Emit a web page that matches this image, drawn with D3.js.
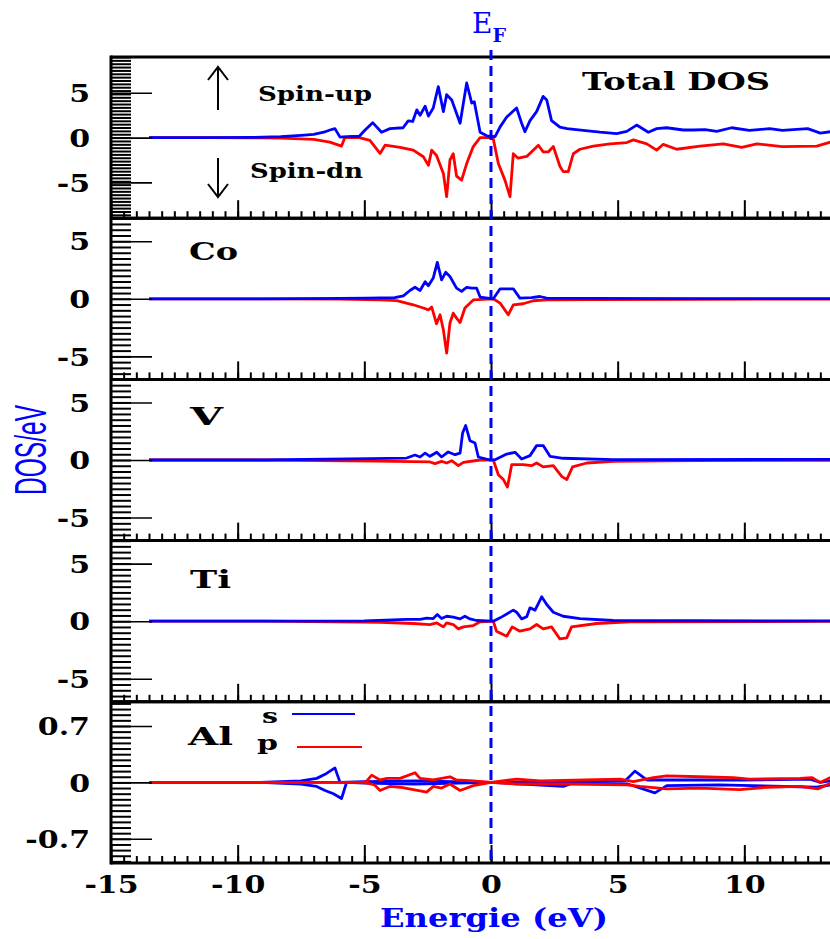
<!DOCTYPE html>
<html><head><meta charset="utf-8">
<script src="https://cdn.jsdelivr.net/npm/d3@7"></script>
<style>body{margin:0;background:#fff}svg{display:block}</style>
</head><body><svg id="c" width="830" height="939"></svg>
<script>
// ---------------- data ----------------
const energyTicks = [-15, -10, -5, 0, 5, 10];
const panelNames = ["Total DOS", "Co", "V", "Ti", "Al"];
const panelLimits = [9, 7, 7, 7, 1];
const yTickValsBig = [-5, 0, 5];
const yTickValsAl = [-0.7, 0, 0.7];

const totalUp = [[-13.5,0],[-11,0],[-9.5,0.02],[-8.3,0.1],[-7.5,0.25],[-7.0,0.37],[-6.6,0.6],[-6.36,0.85],[-6.16,1.0],[-5.96,0.05],[-5.7,0.1],[-5.2,0.15],[-4.97,0.85],[-4.67,1.67],[-4.32,0.6],[-3.99,1.0],[-3.47,1.1],[-3.27,1.86],[-3.09,1.8],[-2.93,3.1],[-2.8,2.5],[-2.6,3.5],[-2.47,2.4],[-2.28,3.3],[-2.08,5.7],[-1.88,2.9],[-1.75,4.8],[-1.55,4.2],[-1.22,1.6],[-0.96,6.1],[-0.76,3.85],[-0.66,4.0],[-0.43,0.6],[-0.17,0.2],[0.16,0.1],[0.36,1.2],[0.62,2.3],[1.01,3.3],[1.21,1.6],[1.34,0.66],[1.54,1.9],[1.8,2.9],[2.06,4.6],[2.2,4.2],[2.39,1.9],[2.72,1.16],[3.0,1.0],[3.64,0.8],[4.3,0.6],[4.96,0.45],[5.36,0.7],[5.75,1.4],[6.21,0.6],[6.54,1.0],[6.93,1.1],[7.59,0.85],[8.0,0.85],[8.45,0.9],[8.91,0.7],[9.5,1.1],[10.2,0.8],[11.0,1.0],[11.5,0.8],[12.5,1.0],[13.0,0.5],[13.4,0.66],[13.6,0.7]];
const totalDn = [[-13.5,0],[-11,0],[-9.5,-0.02],[-8.3,-0.05],[-7.0,-0.2],[-6.36,-0.5],[-5.9,-0.95],[-5.77,0],[-5.2,0],[-4.78,-0.3],[-4.38,-1.77],[-4.18,-0.85],[-3.59,-1.1],[-3.07,-1.4],[-2.67,-2.14],[-2.47,-3.1],[-2.34,-1.4],[-2.15,-2.0],[-1.88,-4.0],[-1.75,-6.6],[-1.62,-2.5],[-1.49,-1.8],[-1.36,-4.3],[-1.16,-4.75],[-0.96,-2.9],[-0.7,-1.0],[-0.43,0],[0.08,0],[0.29,-2.9],[0.55,-4.75],[0.75,-6.6],[0.88,-1.8],[1.07,-2.3],[1.41,-2.1],[1.87,-0.85],[2.06,-1.6],[2.26,-1.6],[2.46,-1.0],[2.72,-3.2],[2.85,-3.8],[3.05,-3.8],[3.25,-1.8],[3.51,-1.3],[4.04,-0.95],[4.7,-0.7],[5.36,-0.55],[5.62,-0.25],[6.15,-0.7],[6.54,-1.4],[6.8,-0.75],[7.33,-1.3],[8.25,-0.95],[9.17,-0.7],[9.9,-1.1],[10.49,-0.7],[11.5,-1.0],[12.86,-0.95],[13.4,-0.5],[13.6,-0.4]];
const coUp = [[-13.5,0],[-9,0],[-6,0.03],[-4.9,0.05],[-3.8,0.1],[-3.46,0.26],[-3.2,0.72],[-3.0,1.0],[-2.8,0.72],[-2.6,1.48],[-2.47,1.13],[-2.28,1.8],[-2.12,3.16],[-1.95,1.65],[-1.79,2.3],[-1.62,1.94],[-1.36,0.93],[-1.16,0.64],[-0.96,1.0],[-0.76,0.93],[-0.57,0.93],[-0.43,0.15],[0.09,0],[0.36,0.87],[0.88,0.87],[1.14,0.06],[1.6,0.1],[1.93,0.2],[2.2,0.06],[4,0.03],[8,0.02],[13.6,0.02]];
const coDn = [[-13.5,0],[-9,0],[-6,-0.03],[-4.38,-0.09],[-3.72,-0.15],[-3.07,-0.52],[-2.67,-0.8],[-2.47,-0.96],[-2.34,-0.72],[-2.15,-2.17],[-2.01,-1.39],[-1.88,-2.7],[-1.75,-4.72],[-1.62,-2.1],[-1.49,-1.25],[-1.36,-1.68],[-1.22,-2.06],[-1.03,-0.8],[-0.7,-0.1],[0.09,0],[0.36,-0.38],[0.68,-1.39],[0.88,-0.52],[1.27,-0.43],[1.67,-0.17],[2.2,-0.09],[4,-0.06],[8,-0.04],[13.6,-0.03]];
const vUp = [[-13.5,0],[-9,0],[-4.78,0.12],[-3.33,0.17],[-3.0,0.43],[-2.8,0.26],[-2.6,0.6],[-2.41,0.32],[-2.14,0.67],[-1.95,0.26],[-1.69,0.7],[-1.42,0.46],[-1.22,0.6],[-1.12,2.35],[-1.0,2.99],[-0.83,1.68],[-0.63,1.48],[-0.5,0.26],[-0.04,0],[0.16,0.03],[0.62,0.52],[0.95,0.67],[1.21,0.09],[1.54,0.38],[1.8,1.25],[2.06,1.25],[2.33,0.32],[2.85,0.15],[4.83,0.03],[13.6,0.05]];
const vDn = [[-13.5,0],[-9,0],[-4.51,-0.09],[-2.41,-0.17],[-2.21,-0.32],[-1.95,-0.12],[-1.75,-0.26],[-1.55,-0.06],[-1.29,-0.49],[-1.09,-0.2],[-0.43,0],[0.09,0],[0.29,-1.28],[0.49,-1.7],[0.65,-2.35],[0.82,-0.4],[1.27,-0.4],[1.6,-0.49],[1.8,-0.26],[2.06,-0.6],[2.46,-0.49],[2.79,-1.42],[2.99,-1.7],[3.22,-0.6],[3.78,-0.26],[4.83,-0.12],[8,-0.05],[13.6,-0.03]];
const tiUp = [[-13.5,0],[-9,0],[-5,0.03],[-3.33,0.15],[-2.8,0.15],[-2.54,0.26],[-2.28,0.23],[-2.12,0.58],[-1.95,0.23],[-1.75,0.43],[-1.49,0.35],[-1.22,0.2],[-1.03,0.43],[-0.83,0.2],[-0.57,0.06],[0.09,0],[0.36,0.29],[0.88,0.96],[1.01,0.78],[1.21,0.2],[1.41,0.38],[1.54,1.16],[1.74,0.96],[2.0,2.12],[2.2,1.45],[2.46,0.78],[2.85,0.43],[3.51,0.23],[4.83,0.06],[13.6,0.02]];
const tiDn = [[-13.5,0],[-9,0],[-4.38,-0.09],[-3.07,-0.2],[-2.41,-0.29],[-2.14,-0.15],[-1.88,-0.49],[-1.75,-0.15],[-1.49,-0.29],[-1.29,-0.67],[-1.09,-0.49],[-0.7,-0.38],[-0.43,-0.06],[0.09,0],[0.22,-0.87],[0.62,-1.3],[0.84,-0.49],[1.14,-0.87],[1.54,-0.67],[1.8,-0.29],[2.06,-0.67],[2.39,-0.49],[2.72,-1.54],[2.99,-1.45],[3.18,-0.49],[4.17,-0.2],[5.49,-0.06],[13.6,-0.02]];
const alSUp = [[-13.5,0],[-9.1,0],[-7.5,0.02],[-6.88,0.05],[-6.55,0.1],[-6.16,0.18],[-5.96,0],[-5.0,0.01],[-3,0.02],[0,0],[2.86,0.01],[5.3,0.02],[5.68,0.14],[6.15,0.03],[8,0.03],[10,0.03],[12.6,0.04],[13.0,0.0],[13.6,0.03]];
const alSDn = [[-13.5,0],[-9.1,0],[-7.5,-0.02],[-6.88,-0.05],[-6.55,-0.1],[-6.22,-0.14],[-5.9,-0.2],[-5.7,0],[-5.0,-0.01],[-3,-0.02],[0,0],[2.86,-0.05],[3.2,-0.01],[5.4,-0.02],[6.47,-0.13],[6.94,-0.04],[9,-0.03],[12.86,-0.06],[13.6,-0.02]];
const alPUp = [[-13.5,0],[-5,0],[-4.9,0.02],[-4.71,0.09],[-4.38,0.03],[-4.1,0.05],[-3.59,0.05],[-3.0,0.12],[-2.8,0.05],[-2.28,0.03],[-1.62,0.07],[-1.36,0.03],[-0.7,0.02],[0,0],[1.01,0.04],[1.93,0.02],[5.1,0.04],[5.62,0.01],[6.41,0.06],[6.94,0.08],[8.25,0.07],[9.57,0.06],[10.2,0.04],[12.2,0.05],[12.66,0.06],[12.99,0],[13.4,0.06],[13.6,0.07]];
const alPDn = [[-13.5,0],[-5,0],[-4.6,-0.03],[-4.38,-0.1],[-4.0,-0.05],[-3.59,-0.06],[-2.54,-0.12],[-2.28,-0.05],[-1.95,-0.07],[-1.62,-0.02],[-1.22,-0.1],[-0.7,-0.04],[0,0],[1.01,-0.02],[2.99,-0.02],[5.36,-0.03],[5.88,-0.05],[6.94,-0.08],[8.25,-0.07],[9.83,-0.09],[10.9,-0.06],[12.2,-0.05],[12.9,-0.08],[13.4,-0.01],[13.6,0]];

// ---------------- layout ----------------
const svg = d3.select("#c");
const BLUE = "#0000ff", RED = "#ff0000";
const SERIF = "'DejaVu Serif', serif";
const left = 111, right = 830, top0 = 57, ph = 161.2;
const x = d3.scaleLinear().domain([-15, 15]).range([left, 871]);

function stretch(sel, f) {
  sel.each(function () {
    const L = this.getComputedTextLength();
    d3.select(this).attr("textLength", L * f).attr("lengthAdjust", "spacingAndGlyphs");
  });
}

const series = [
  [[totalDn, RED], [totalUp, BLUE]],
  [[coDn, RED], [coUp, BLUE]],
  [[vDn, RED], [vUp, BLUE]],
  [[tiDn, RED], [tiUp, BLUE]],
  [[alSUp, BLUE], [alSDn, BLUE], [alPUp, RED], [alPDn, RED]]
];

const minorX = d3.range(-15, 15.01, 0.5);

panelNames.forEach((name, i) => {
  const top = top0 + i * ph, bot = top + ph;
  const lim = panelLimits[i];
  const y = d3.scaleLinear().domain([-lim, lim]).range([bot, top]);
  const g = svg.append("g");
  const cid = "clip" + i;
  svg.append("clipPath").attr("id", cid).append("rect")
    .attr("x", left).attr("y", top).attr("width", right - left).attr("height", ph);

  // data lines
  const line = d3.line().x(d => x(d[0])).y(d => y(d[1]));
  const lg = g.append("g").attr("clip-path", `url(#${cid})`);
  series[i].forEach(([data, col]) => {
    lg.append("path").datum(data).attr("d", line)
      .attr("fill", "none").attr("stroke", col).attr("stroke-width", 2.8)
      .attr("stroke-linejoin", "round");
  });

  // y minor ticks
  let step;
  if (i === 0) { step = 0.375; }
  else if (i === 4) { step = 0.07; }
  else { step = 0.5; }
  const n = Math.floor(lim / step + 1e-6);
  const minorY = d3.range(-n, n + 1).map(k => k * step);
  const majorY = i === 4 ? yTickValsAl : yTickValsBig;
  const ya = g.append("g").attr("transform", `translate(${left},0)`)
    .call(d3.axisRight(y).tickValues(minorY).tickSize(20).tickFormat(""));
  ya.select(".domain").remove();
  ya.selectAll("line").attr("stroke", "#000").attr("stroke-width", 2);
  const yb = g.append("g").attr("transform", `translate(${left},0)`)
    .call(d3.axisRight(y).tickValues(majorY).tickSize(41).tickFormat(""));
  yb.select(".domain").remove();
  yb.selectAll("line").attr("stroke", "#000").attr("stroke-width", 1.6);
  const yl = g.append("g").attr("transform", `translate(${left},0)`)
    .call(d3.axisLeft(y).tickValues(majorY).tickSize(0).tickPadding(21)
      .tickFormat(d => d === 0 ? "0" : (d < 0 ? "-" : "") + Math.abs(d)));
  yl.select(".domain").remove();
  yl.selectAll("text").attr("font-family", SERIF).attr("font-weight", "bold")
    .attr("font-size", 24).attr("fill", "#000").attr("dy", "0.36em");
  stretch(yl.selectAll("text"), 1.25);

  // x ticks on panel bottom, pointing up
  const xa = g.append("g").attr("transform", `translate(0,${bot})`)
    .call(d3.axisTop(x).tickValues(minorX).tickSize(7).tickFormat(""));
  xa.select(".domain").remove();
  xa.selectAll("line").attr("stroke", "#000").attr("stroke-width", 2);
  const xb = g.append("g").attr("transform", `translate(0,${bot})`)
    .call(d3.axisTop(x).tickValues(energyTicks).tickSize(18).tickFormat(""));
  xb.select(".domain").remove();
  xb.selectAll("line").attr("stroke", "#000").attr("stroke-width", 2);

  // frame lines
  g.append("line").attr("x1", left).attr("x2", right).attr("y1", bot).attr("y2", bot)
    .attr("stroke", "#000").attr("stroke-width", 3);
  g.append("line").attr("x1", left).attr("x2", right).attr("y1", top).attr("y2", top)
    .attr("stroke", "#000").attr("stroke-width", 3);
});

// left axis line
svg.append("line").attr("x1", left).attr("x2", left).attr("y1", top0 - 1.5).attr("y2", top0 + 5 * ph + 1.5)
  .attr("stroke", "#000").attr("stroke-width", 3);

// bottom x tick labels
const bottomY = top0 + 5 * ph;
const xl = svg.append("g").attr("transform", `translate(0,${bottomY})`)
  .call(d3.axisBottom(x).tickValues(energyTicks).tickSize(0).tickPadding(13)
    .tickFormat(d => (d < 0 ? "-" : "") + Math.abs(d)));
xl.select(".domain").remove();
xl.selectAll("text").attr("font-family", SERIF).attr("font-weight", "bold")
  .attr("font-size", 24).attr("fill", "#000");
stretch(xl.selectAll("text"), 1.25);

// Fermi level
svg.append("line").attr("x1", x(0)).attr("x2", x(0)).attr("y1", 50).attr("y2", bottomY)
  .attr("stroke", BLUE).attr("stroke-width", 3).attr("stroke-dasharray", "10,6");
const ef = svg.append("text").attr("x", 472).attr("y", 33).attr("fill", BLUE)
  .attr("font-family", SERIF).attr("font-size", 28);
ef.append("tspan").text("E");
ef.append("tspan").attr("dy", 9).attr("font-size", 19).attr("font-weight", "bold").text("F");

// axis titles
const xt = svg.append("text").attr("x", 494).attr("y", 927).attr("text-anchor", "middle")
  .attr("fill", BLUE).attr("font-family", SERIF).attr("font-weight", "bold").attr("font-size", 26)
  .text("Energie (eV)");
xt.attr("textLength", 228).attr("lengthAdjust", "spacingAndGlyphs");
svg.append("text").attr("transform", "translate(46,450) rotate(-90)").attr("text-anchor", "middle")
  .attr("fill", BLUE).attr("font-family", "'Liberation Sans', sans-serif").attr("font-size", 44)
  .attr("textLength", 90).attr("lengthAdjust", "spacingAndGlyphs").text("DOS/eV");

// panel labels
const labelPos = [[582, 90, 188], [189, 260, 49], [190, 425, 33], [190, 588, 41], [188, 745, 45]];
panelNames.forEach((name, i) => {
  const [lx, ly, lw] = labelPos[i];
  svg.append("text").attr("x", lx).attr("y", ly).attr("font-family", SERIF).attr("font-weight", "bold")
    .attr("font-size", 25).attr("fill", "#000")
    .attr("textLength", lw).attr("lengthAdjust", "spacingAndGlyphs").text(name);
});

// spin annotations
svg.append("text").attr("x", 258).attr("y", 101).attr("font-family", SERIF).attr("font-weight", "bold")
  .attr("font-size", 21).attr("textLength", 114).attr("lengthAdjust", "spacingAndGlyphs").text("Spin-up");
svg.append("text").attr("x", 250).attr("y", 178).attr("font-family", SERIF).attr("font-weight", "bold")
  .attr("font-size", 21).attr("textLength", 113).attr("lengthAdjust", "spacingAndGlyphs").text("Spin-dn");
const arr = svg.append("g").attr("stroke", "#000").attr("stroke-width", 2).attr("fill", "none");
arr.append("path").attr("d", "M218,110 V67 M208,80 L218,67 L228,80");
arr.append("path").attr("d", "M218,158 V197 M208,184 L218,197 L228,184");

// Al legend
svg.append("text").attr("x", 262).attr("y", 723).attr("font-family", SERIF).attr("font-weight", "bold")
  .attr("font-size", 21).attr("textLength", 16).attr("lengthAdjust", "spacingAndGlyphs").text("s");
svg.append("text").attr("x", 257).attr("y", 750).attr("font-family", SERIF).attr("font-weight", "bold")
  .attr("font-size", 21).attr("textLength", 21).attr("lengthAdjust", "spacingAndGlyphs").text("p");
svg.append("line").attr("x1", 292).attr("x2", 355).attr("y1", 714).attr("y2", 714).attr("stroke", BLUE).attr("stroke-width", 2);
svg.append("line").attr("x1", 297).attr("x2", 362).attr("y1", 747).attr("y2", 747).attr("stroke", RED).attr("stroke-width", 2);
</script></body></html>
